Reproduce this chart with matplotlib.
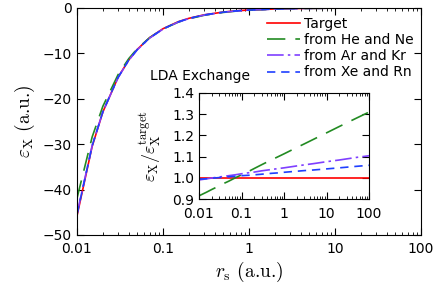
import matplotlib
matplotlib.use('Agg')
import matplotlib.pyplot as plt
import numpy as np

plt.rcParams['mathtext.fontset'] = 'cm'
plt.rcParams['font.family'] = 'DejaVu Sans'

# r_s grid (a.u.) and target LDA exchange energy
rs = [0.01, 0.015, 0.02, 0.03, 0.04, 0.05, 0.07, 0.1, 0.15, 0.2, 0.3, 0.5, 0.7,
      1, 2, 3, 5, 10, 20, 50, 100]
eps_target = [-45.8, -30.5, -22.9, -15.3, -11.45, -9.16, -6.55, -4.58, -3.05,
              -2.29, -1.53, -0.92, -0.65, -0.46, -0.23, -0.15, -0.09, -0.046,
              -0.023, -0.009, -0.0046]

# ratio eps / eps_target
ratio_he_ne = [0.915, 0.932, 0.945, 0.962, 0.975, 0.984, 0.999, 1.014, 1.031,
               1.044, 1.062, 1.084, 1.098, 1.113, 1.143, 1.160, 1.182, 1.212,
               1.242, 1.281, 1.310]
ratio_ar_kr = [0.990, 0.995, 0.999, 1.004, 1.007, 1.010, 1.014, 1.019, 1.024,
               1.027, 1.033, 1.039, 1.043, 1.047, 1.056, 1.061, 1.067, 1.076,
               1.084, 1.096, 1.104]
ratio_xe_rn = [0.993, 0.996, 0.998, 1.001, 1.003, 1.005, 1.007, 1.010, 1.012,
               1.014, 1.017, 1.021, 1.023, 1.026, 1.031, 1.034, 1.037, 1.042,
               1.047, 1.054, 1.059]

rs = np.array(rs)
eps_target = np.array(eps_target)
ratios = [np.ones(len(rs)), np.array(ratio_he_ne), np.array(ratio_ar_kr), np.array(ratio_xe_rn)]
labels = ['Target', 'from He and Ne', 'from Ar and Kr', 'from Xe and Rn']
colors = ['#ff0000', '#228b22', '#7f3fff', '#1f3fff']
dashes = [(None, None), (11, 6), (10, 2.5, 1.5, 2.5), (5, 3.5)]

fig = plt.figure(figsize=(4.36, 2.93), dpi=100)
ax = fig.add_axes([0.1766, 0.198, 0.789, 0.775])

for r, lab, c, d in zip(ratios, labels, colors, dashes):
    line, = ax.plot(rs, eps_target * r, color=c, lw=1.2, label=lab)
    if d[0] is not None:
        line.set_dashes(d)

ax.set_xscale('log')
ax.set_xlim(0.01, 100)
ax.set_ylim(-50, 0)
ax.set_yticks([0, -10, -20, -30, -40, -50])
ax.set_xticks([0.01, 0.1, 1, 10, 100])
ax.set_xticklabels(['0.01', '0.1', '1', '10', '100'])
ax.tick_params(which='both', direction='in', top=True, right=True, labelsize=10)
ax.tick_params(which='major', length=5)
ax.tick_params(which='minor', length=2.5)
ax.tick_params(axis='x', pad=5)
ax.set_xlabel(r'$r_{\rm s}$ (a.u.)', fontsize=14, labelpad=3, family='cmr10')
ax.set_ylabel(r'$\varepsilon_{\rm X}$ (a.u.)', fontsize=14, labelpad=4, family='cmr10')
ax.legend(loc='upper right', frameon=False, fontsize=10, handlelength=2.4,
          handletextpad=0.3, labelspacing=0.15, borderaxespad=0.1,
          bbox_to_anchor=(1.0, 0.99))

fig.text(0.344, 0.74, 'LDA Exchange', fontsize=10, va='center')

# inset
ins = fig.add_axes([0.4564, 0.3208, 0.390, 0.3618])
for r, c, d in zip(ratios, colors, dashes):
    line, = ins.plot(rs, r, color=c, lw=1.2)
    if d[0] is not None:
        line.set_dashes(d)
ins.set_xscale('log')
ins.set_xlim(0.01, 100)
ins.set_ylim(0.9, 1.4)
ins.set_xticks([0.01, 0.1, 1, 10, 100])
ins.set_xticklabels(['0.01', '0.1', '1', '10', '100'])
ins.set_yticks([0.9, 1.0, 1.1, 1.2, 1.3, 1.4])
ins.set_yticklabels(['0.9', '1.0', '1.1', '1.2', '1.3', '1.4'])
ins.tick_params(which='both', direction='in', top=True, right=True, labelsize=10)
ins.tick_params(which='major', length=5)
ins.tick_params(which='minor', length=2.5)
ins.tick_params(axis='x', pad=6)
ins.set_ylabel(r'$\varepsilon_{\rm X}/\varepsilon_{\rm X}^{\rm target}$', fontsize=13, labelpad=6)

plt.savefig('out.png', dpi=100)
